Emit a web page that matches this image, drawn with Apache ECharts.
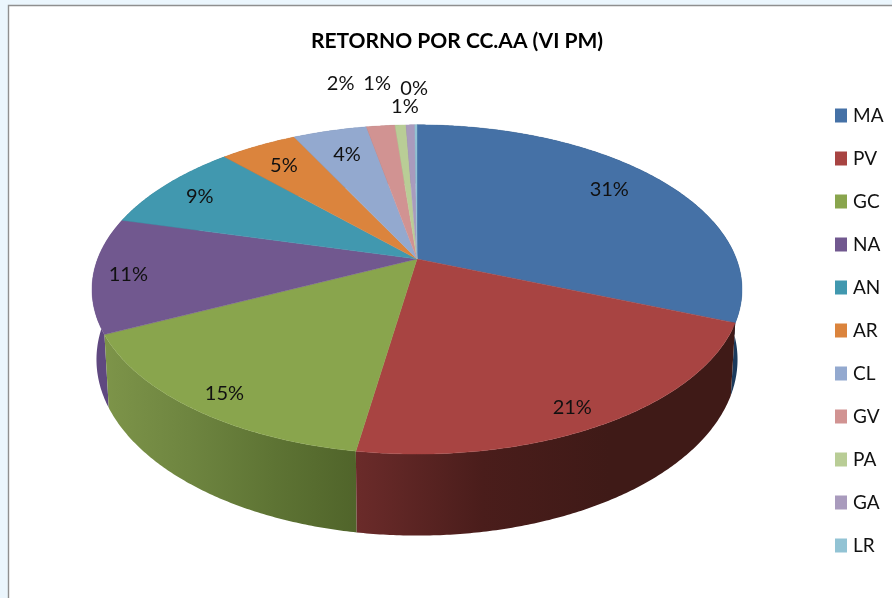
<!DOCTYPE html>
<html><head><meta charset="utf-8">
<style>html,body{margin:0;padding:0;background:#fff}#c{width:892px;height:598px}</style>
<script src="https://cdn.jsdelivr.net/npm/echarts@6/dist/echarts.min.js"></script>
</head><body><div id="c"></div>
<script>
const categories = ['MA','PV','GC','NA','AN','AR','CL','GV','PA','GA','LR'];
const values = [31.1,21.4,15.3,11.3,8.9,4.6,4.4,1.7,0.65,0.52,0.13];
const colors = ['#4571A6','#A84442','#89A54D','#71588F','#4198AF','#DB843D','#93A9CF','#D19392','#B9CD96','#A99BBD','#92C3D4'];
const wallStops = [
  ['#1b3a5c','#1b3a5c'],['#6b2b2a','#4a1d1b','#3f1a17','#3f1a17'],['#7d9449','#6e8540','#5e7434','#50642a'],
  ['#5f4880','#5f4880'],['#2c6f80','#2c6f80'],['#9c5d2a','#9c5d2a'],['#66789a','#66789a'],['#957069','#957069'],
  ['#84927a','#84927a'],['#786e86','#786e86'],['#688b97','#688b97']];
const labelNudge = [[8,-8],[21,31],[-32,27],[-47,4],[-25,-5],[-10,-6],[-2,-5],[-48,-72],[-27,-71],[-7,-48],[-2,-66]];
const TITLE = 'RETORNO POR CC.AA (VI PM)';
const FONT = 'Lato';

const topDisk = {cx:417, cy:259, a:319.4, b:159, k:0.185};
const baseDisk = {cx:417, cy:327, a:315, b:170, k:0.185};
const total = values.reduce((s,v)=>s+v,0);
const project = (d,r,deg)=>{
  const t=deg*Math.PI/180, u=r*Math.sin(t), v=r*Math.cos(t), w=1+d.k*v;
  return [d.cx+d.a*u/w, d.cy-d.b*v/w];
};
const arc = (d,from,to)=>{
  const pts=[], n=Math.max(2,Math.ceil((to-from)/0.5));
  for(let i=0;i<=n;i++) pts.push(project(d,1,from+(to-from)*i/n));
  return pts;
};
const wallZ = [1,4,3,2,1,1,1,1,1,1,1];
let acc=0;
const spans = values.map(v=>{const s=acc; acc+=v/total*360; return [s,acc];});

const series = categories.map((name,i)=>({
  name, type:'custom', coordinateSystem:'none', data:[values[i]],
  itemStyle:{color:colors[i]}, silent:true, animation:false,
  renderItem(params,api){
    const [a0,a1]=spans[i];
    const val=api.value(0);
    const top=arc(topDisk,a0,a1), base=arc(baseDisk,a0,a1).reverse();
    const stops=wallStops[i].map((c,j,l)=>({offset:j/(l.length-1),color:c}));
    const mid=project(topDisk,0.75,(a0+a1)/2);
    return {type:'group',children:[
      {type:'polygon',z2:wallZ[i],shape:{points:top.concat(base)},
       style:{fill:new echarts.graphic.LinearGradient(0,0,1,0,stops),stroke:null}},
      {type:'polygon',z2:10,shape:{points:[[topDisk.cx,topDisk.cy]].concat(top)},
       style:{fill:colors[i],stroke:colors[i],lineWidth:0.4}},
      {type:'text',z2:20,x:mid[0]+labelNudge[i][0],y:mid[1]+labelNudge[i][1],
       style:{text:Math.round(val/total*100)+'%',fill:'#111',font:'20px '+FONT,align:'center',verticalAlign:'middle'}}
    ]};
  }
}));

const chart=echarts.init(document.getElementById('c'),null,{renderer:'canvas'});
chart.setOption({
  animation:false,
  backgroundColor:'#EBF6FD',
  graphic:[{type:'rect',z:-10,silent:true,shape:{x:8.5,y:5.5,width:900,height:620},
    style:{fill:'#fff',stroke:'#8f8f8f',lineWidth:1.4}}],
  title:{text:TITLE,left:452,top:26,textAlign:'center',
    textStyle:{fontFamily:FONT,fontWeight:'bold',fontSize:21,color:'#000'}},
  legend:{orient:'vertical',left:835,top:106,padding:0,icon:'rect',itemWidth:12,itemHeight:14,itemGap:24,
    data:categories,selectedMode:false,
    textStyle:{fontFamily:FONT,fontSize:19,color:'#111',padding:[0,0,0,1]}},
  series
});
</script></body></html>
